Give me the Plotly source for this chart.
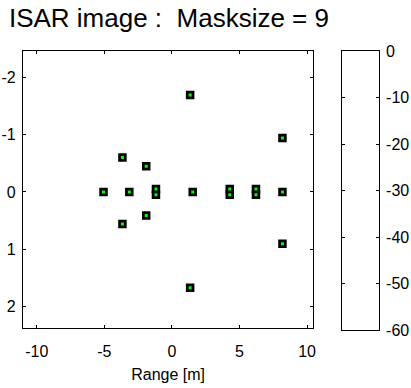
import plotly.graph_objects as go

# Scatterer positions of the reconstructed ISAR image
range_m = [1.35, -3.66, -1.90, -5.06, -3.15, -1.18, -1.18, 1.54, -1.90, -3.66,
           8.18, 4.28, 4.28, 6.22, 6.22, 8.18, 8.18, 1.35]
cross_range = [-1.69, -0.60, -0.45, 0.0, 0.0, -0.05, 0.05, 0.0, 0.41, 0.56,
               -0.94, -0.05, 0.05, -0.05, 0.05, 0.0, 0.90, 1.67]

x_ticks = [-10, -5, 0, 5, 10]
y_ticks = [-2, -1, 0, 1, 2]
cbar_ticks = [0, -10, -20, -30, -40, -50, -60]
cbar_levels = [-60, 0]

FONT = "Liberation Sans, Arial, sans-serif"


def labels(vals):
    # plain hyphen-minus labels
    return [str(v) for v in vals]


fig = go.Figure()

# scatterers: black square with green core
fig.add_trace(go.Scatter(
    x=range_m, y=cross_range, mode="markers",
    marker=dict(symbol="square", size=8.5, color="black", line=dict(width=0)),
    showlegend=False, hoverinfo="skip"))
fig.add_trace(go.Scatter(
    x=range_m, y=cross_range, mode="markers",
    marker=dict(symbol="square", size=3, color="#00ff00", line=dict(width=0)),
    showlegend=False))

# dB colour bar drawn as its own small axis
fig.add_trace(go.Heatmap(
    x=[0, 1], y=cbar_levels, z=[[-60, -60], [0, 0]],
    colorscale=[[0, "white"], [1, "white"]], showscale=False,
    xaxis="x2", yaxis="y2", hoverinfo="skip"))

axis_common = dict(
    showline=True, linecolor="black", linewidth=1, mirror="ticks",
    ticks="inside", ticklen=3, tickwidth=1, tickcolor="black",
    showgrid=False, zeroline=False,
    tickfont=dict(family=FONT, size=16, color="black"))

fig.update_layout(
    width=411, height=388,
    margin=dict(l=0, r=0, t=0, b=0),
    paper_bgcolor="white", plot_bgcolor="white",
    font=dict(family=FONT, color="black"),
    title=dict(text="ISAR image :  Masksize = 9",
               x=9 / 411, xanchor="left", xref="paper",
               y=1 - 18 / 388, yanchor="middle",
               font=dict(family=FONT, size=26, color="black")),
    xaxis=dict(axis_common, domain=[23 / 411, 315.7 / 411],
               range=[-11.03, 10.47], tickvals=x_ticks,
               ticktext=labels(x_ticks), ticklabelstandoff=8,
               title=dict(text="Range [m]", standoff=10,
                          font=dict(family=FONT, size=16, color="black"))),
    yaxis=dict(axis_common, domain=[53 / 388, 343.3 / 388],
               range=[2.375, -2.46], tickvals=y_ticks,
               ticktext=labels(y_ticks), ticklabelstandoff=3),
    xaxis2=dict(domain=[345 / 411, 381.7 / 411], anchor="y2", range=[0, 1],
                showline=True, linecolor="black", linewidth=1, mirror=True,
                showticklabels=False, ticks="", showgrid=False, zeroline=False),
    yaxis2=dict(axis_common, domain=[51 / 388, 343 / 388], anchor="x2",
                side="right", range=cbar_levels, tickvals=cbar_ticks,
                ticktext=labels(cbar_ticks), ticklabelstandoff=3),
)

fig.write_html("out.html")
